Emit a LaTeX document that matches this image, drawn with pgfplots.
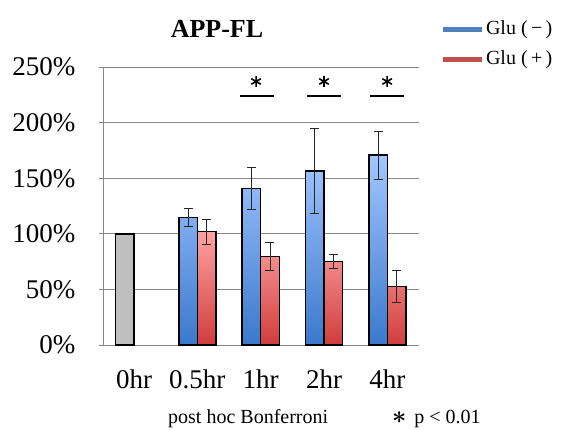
\documentclass[border=0pt]{standalone}
\usepackage{fontspec}
\setmainfont{Liberation Serif}
\usepackage{pgfplots}
\pgfplotsset{compat=1.18}
\definecolor{gridgray}{HTML}{868686}
\definecolor{bluetop}{HTML}{A3C6FF}
\definecolor{bluebot}{HTML}{3A78CC}
\definecolor{redtop}{HTML}{FFA3A3}
\definecolor{redbot}{HTML}{D03C3C}
\definecolor{barGray}{HTML}{BFBFBF}
\definecolor{legblue}{HTML}{4F81BD}
\definecolor{legred}{HTML}{C0504D}

\begin{document}
\begin{tikzpicture}
\path[use as bounding box] (0pt,0pt) rectangle (563pt,-429pt);
\begin{axis}[
    at={(103pt,-345pt)}, anchor=south west,
    width=316pt, height=278pt, scale only axis,
    axis lines=left,
    axis line style={-, draw=gridgray, line width=0.8pt},
    xmin=-0.49, xmax=4.5, ymin=0, ymax=250,
    xtick={0,1,2,3,4},
    xticklabels={0hr,0.5hr,1hr,2hr,4hr},
    ytick={0,50,100,150,200,250},
    yticklabels={0\%,50\%,100\%,150\%,200\%,250\%},
    ymajorgrids,
    grid style={draw=gridgray, line width=0.8pt},
    x tick style={draw=none},
    y tick style={draw=gridgray, line width=0.8pt},
    tick align=outside, major tick length=4pt,
    tick label style={font=\fontsize{27}{30}\selectfont},
    xticklabel style={yshift=-17pt},
    yticklabel style={xshift=-20pt},
    clip=false,
    legend style={at={(axis description cs:1.066,1.178)}, anchor=north west,
        draw=none, fill=none, inner sep=0pt, row sep=6pt,
        font=\fontsize{20}{24}\selectfont,
        nodes={inner sep=2pt, text height=15pt, text depth=5pt},
        cells={anchor=west}},
    legend image code/.code={\draw[#1] (0pt,0pt) -- (25pt,0pt); \path (0pt,0pt) -- (39pt,0pt);},
]
\addlegendimage{legblue, line width=5pt}
\addlegendentry{Glu (\,−\,)}
\addlegendimage{legred, line width=5pt}
\addlegendentry{Glu (\,+\,)}

% 0hr control
\addplot[ybar, bar width=0.294, bar shift=0pt, draw=black, line width=1.6pt,
    fill=barGray, forget plot] coordinates {(-0.147,100)};

% Glu (-)
\addplot[ybar, bar width=0.294, bar shift=0pt, draw=black, line width=1.6pt,
    top color=bluetop, bottom color=bluebot, forget plot,
    error bars/.cd, y dir=both, y explicit,
    error bar style={line width=0.8pt, black!85},
    error mark options={rotate=90, mark size=4.5pt, line width=0.8pt, black!85}]
    table[x=x, y=y, y error=e] {
x      y      e
0.853  114.7  8.3
1.853  140.8  19.3
2.853  156.7  38.2
3.853  170.8  21.7
};

% Glu (+)
\addplot[ybar, bar width=0.294, bar shift=0pt, draw=black, line width=1.6pt,
    top color=redtop, bottom color=redbot, forget plot,
    error bars/.cd, y dir=both, y explicit,
    error bar style={line width=0.8pt, black!85},
    error mark options={rotate=90, mark size=4.5pt, line width=0.8pt, black!85}]
    table[x=x, y=y, y error=e] {
x      y      e
1.147  101.9  11.0
2.147  79.7   12.3
3.147  75.2   6.7
4.147  52.7   14.0
};

% significance bars
\addplot[black, line width=1.3pt, forget plot] coordinates {(1.670,224) (2.207,224)};
\addplot[black, line width=1.3pt, forget plot] coordinates {(2.738,224) (3.275,224)};
\addplot[black, line width=1.3pt, forget plot] coordinates {(3.728,224) (4.265,224)};
\addplot[only marks, mark=asterisk, mark size=5.5pt, line width=1.6pt, black, forget plot]
    coordinates {(1.927,237) (3.0,237) (3.997,237)};
\end{axis}
\node[anchor=base, font=\fontsize{26}{30}\selectfont\bfseries] at (217pt,-37pt) {APP-FL};
\node[anchor=base west, font=\fontsize{20}{24}\selectfont, inner sep=0pt] at (168pt,-423pt)
    {post hoc Bonferroni\hspace{64pt}{\fontsize{26}{26}\selectfont\boldmath$\ast$}\hspace{8pt}p < 0.01};
\end{tikzpicture}
\end{document}
